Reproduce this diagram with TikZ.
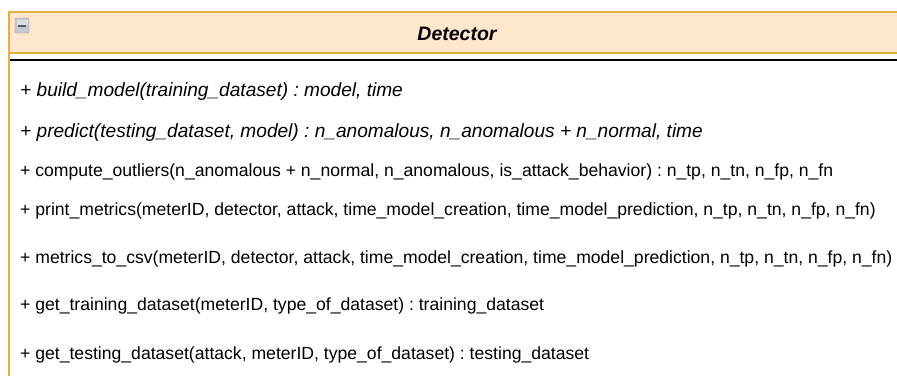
\documentclass[tikz,border=0pt]{standalone}
\usepackage{fontspec}
\setmainfont{Liberation Sans}
\frenchspacing
\definecolor{headfill}{HTML}{FFE6CC}
\definecolor{headline}{HTML}{E0B040}
\definecolor{btnfill}{HTML}{C4CAD0}
\tikzset{
  op/.style={anchor=base west,inner sep=0pt,font=\fontsize{17.6}{19}\selectfont},
  abstractop/.style={op,font=\fontsize{19.1}{21}\itshape},
}
\begin{document}
\begin{tikzpicture}[x=1pt,y=-1pt]
 \useasboundingbox (0,0) rectangle (897,375);
 \clip (0,0) rectangle (897,375);
 \fill[white](0,0) rectangle (897,375);
 % class header
 \draw[headline,fill=headfill,line width=1.6pt](9,12)--(905,12)--(905,53)--(9,53)--cycle;
 \draw[headline,line width=1.6pt](9,53)--(9,380);
 \draw[black,line width=1.4pt](10,60)--(905,60);
 % collapse button
 \draw[gray!80,fill=btnfill,rounded corners=1.5pt](15,18) rectangle (29,33);
 \fill[white,opacity=0.4](16.5,19.5) rectangle (27.5,25);
 \draw[black!65,line width=2pt](18,25.8)--(26,25.8);
 \node[anchor=base,inner sep=0pt,font=\fontsize{19.5}{21}\bfseries\itshape] (detector) at (457,40.5) {Detector};
 % operations
 \node[abstractop] (build) at (20,96) {+ build\_model(training\_dataset) : model, time};
 \node[abstractop] (predict) at (20,137) {+ predict(testing\_dataset, model) : n\_anomalous, n\_anomalous + n\_normal, time};
 \node[op] (outliers) at (20,176) {+ compute\_outliers(n\_anomalous + n\_normal, n\_anomalous, is\_attack\_behavior) : n\_tp, n\_tn, n\_fp, n\_fn};
 \node[op] (print) at (20,215) {+ print\_metrics(meterID, detector, attack, time\_model\_creation, time\_model\_prediction, n\_tp, n\_tn, n\_fp, n\_fn)};
 \node[op] (csv) at (20,263) {+ metrics\_to\_csv(meterID, detector, attack, time\_model\_creation, time\_model\_prediction, n\_tp, n\_tn, n\_fp, n\_fn)};
 \node[op] (training) at (20,310) {+ get\_training\_dataset(meterID, type\_of\_dataset) : training\_dataset};
 \node[op] (testing) at (20,359) {+ get\_testing\_dataset(attack, meterID, type\_of\_dataset) : testing\_dataset};
\end{tikzpicture}
\end{document}
